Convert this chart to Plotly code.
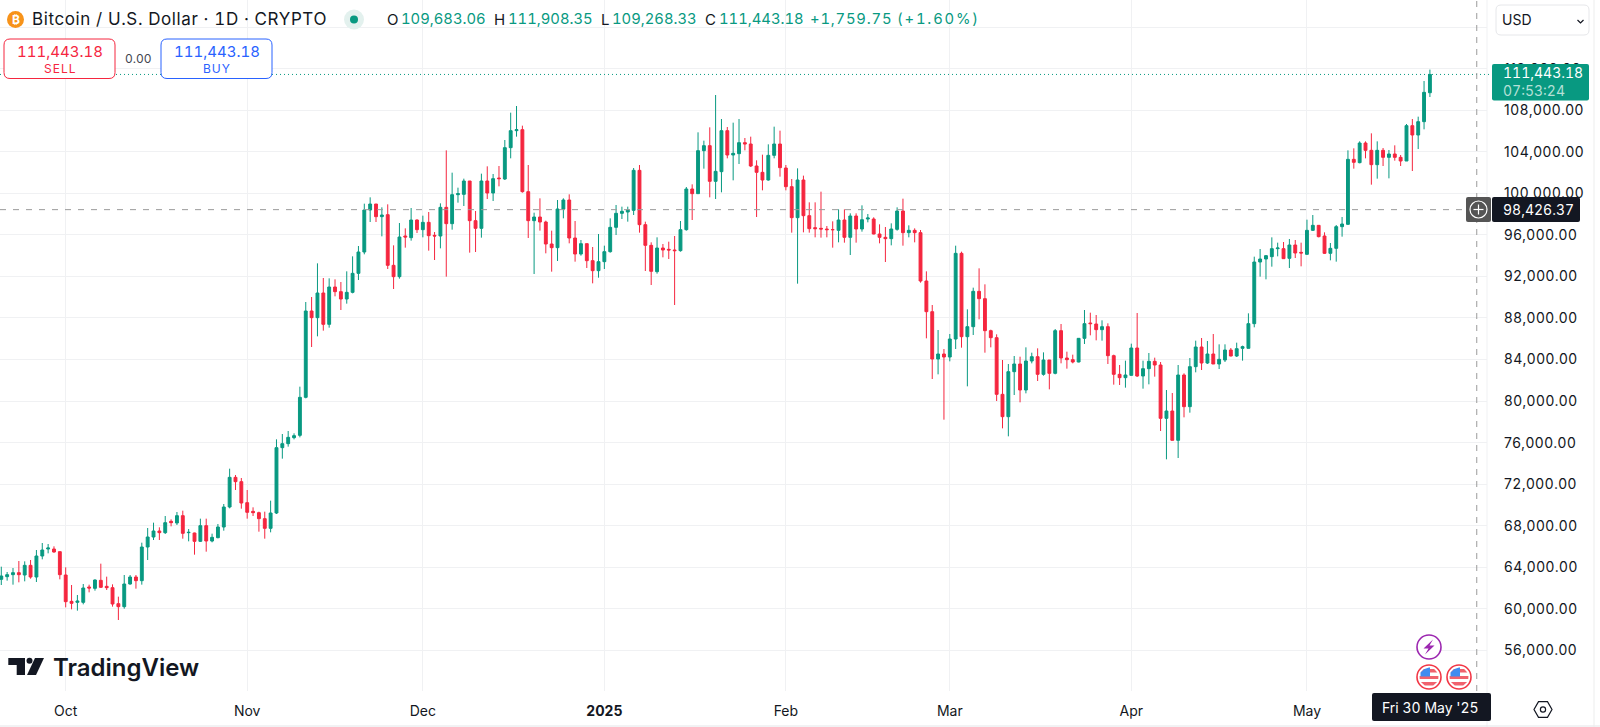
import math
import pandas as pd
import plotly.graph_objects as go

START_DATE = "2024-09-20"
X_TICK_DATES = ["2024-10-01", "2024-11-01", "2024-12-01", "2025-01-01", "2025-02-01", "2025-03-01", "2025-04-01", "2025-05-01"]
X_TICK_TEXT = ["Oct", "Nov", "Dec", "<b>2025</b>", "Feb", "Mar", "Apr", "May"]
Y_TICKS = [56000, 60000, 64000, 68000, 72000, 76000, 80000, 84000, 88000, 92000, 96000, 100000, 104000, 108000, 112000, 116000]
Y_TICK_TEXT = ["56,000.00", "60,000.00", "64,000.00", "68,000.00", "72,000.00", "76,000.00", "80,000.00", "84,000.00",
               "88,000.00", "92,000.00", "96,000.00", "100,000.00", "104,000.00", "108,000.00", "112,000.00", ""]

opens = [
    62836,63093,63286,63478,63254,64184,63061,65083,65757,65757,65500,
    63254,60718,60622,60622,62098,61970,62740,62163,62034,60494,60205,62387,63061,62708,65949,66912,67489,67329,68420,68260,68966,67329,67297,66495,68003,66527,66848,67875,69800,72656,72239,
    70217,69383,69254,68677,67746,69222,75512,75897,76475,76700,80358,88669,88027,90402,87386,90980,90530,89824,90466,92295,94349,98392,98970,97750,97943,93065,91974,95890,95729,97430,
    96499,97205,95953,95889,98649,97077,99868,99900,101184,97365,96628,101184,100029,101473,101377,104393,106030,106126,100157,97365,97718,97237,95119,94766,98489,99355,95697,94156,95151,93514,92552,
    93418,94381,96723,98071,98200,98360,102211,96980,94991,92456,94734,94605,94541,94477,96499,100414,99965,104104,104586,101152,102083,106030,103687,103816,104874,104746,102628,102019,101280,103655,104746,
    102436,100639,97654,101280,97846,96691,96627,96563,96499,96434,97429,95760,97814,96563,97525,97525,96081,95760,95632,96531,98296,96210,96434,96210,91557,88604,84047,84529,
    84240,85973,94220,86197,87160,90562,89856,86775,86101,80646,78496,82828,83566,81063,83855,84272,82572,83951,82668,86776,84144,83984,83759,86038,87514,87418,86872,87161,84369,82572,82251,
    82476,85107,82412,83118,83823,83471,78336,79042,76218,82508,79459,83310,85203,83663,84529,83567,83952,84915,84337,85075,85075,87450,93386,93675,93900,94670,94670,93739,95023,94317,
    94124,96435,96916,95889,94221,94702,96788,97013,103270,102949,104842,104137,102757,104137,103463,103784,103463,103110,106511,105613,106896,109683.06,
]
closes = [
    63157,63286,63478,63286,64184,63061,65083,65660,65853,65468,63286,
    60686,60526,60750,62002,62002,62772,62066,62034,60462,60205,62387,63061,62708,65949,66912,67489,67329,68292,68292,68966,67265,67361,66495,68003,66527,66880,67875,69800,72656,72239,70185,
    69287,69254,68677,67746,69222,75512,75897,76507,76667,80358,88669,88027,90402,87386,90980,90530,89824,90466,92295,94349,98392,98970,97750,97911,93065,91974,95793,95793,97430,96499,
    97205,95921,95889,98649,97077,99868,99965,101184,97365,96628,101184,100029,101409,101409,104393,106030,106126,100157,97365,97718,97237,95119,94766,98489,99355,95697,94156,95151,93514,92552,93418,
    94381,96723,98071,98264,98392,102211,96980,94991,92488,94734,94541,94541,94477,96499,100414,99965,104104,104586,101152,102115,106030,103687,103848,104874,104746,102628,102019,101280,103655,104746,102468,
    100639,97654,101280,97846,96595,96595,96563,96499,96499,97429,95760,97814,96563,97461,97622,96081,95760,95632,96563,98296,96210,96434,96210,91557,88604,84047,84529,84240,
    85973,94220,86197,87160,90562,89856,86775,86101,80646,78496,82828,83566,81063,83855,84272,82572,83951,82668,86776,84144,83984,83759,86038,87450,87450,86872,87161,84369,82572,82251,82508,
    85107,82412,83118,83823,83471,78336,79042,76218,82508,79459,83310,85203,83663,84529,83567,84016,84915,84337,85043,85235,87450,93386,93675,93996,94670,94734,93707,95023,94253,94253,
    96435,96916,95825,94221,94702,96788,97045,103270,102981,104842,104137,102757,104137,103463,103784,103463,103110,106511,105613,106896,109720,111443.18,
]
highs = [
    64056,63542,63927,64601,64569,64698,65660,66334,66238,66013,65500,
    63992,62291,61328,62387,62323,62836,64345,63093,62355,61168,63254,63254,63254,66366,67778,68292,67842,68933,68612,69319,69447,67682,67329,68677,68677,67233,68163,70089,73490,72880,72592,
    71437,69768,69351,69351,70410,76315,76828,77117,76892,81385,89535,90017,93258,91846,91814,91717,91461,92488,93932,94927,99002,99612,98970,98649,98938,94991,97141,96628,98585,97494,
    97847,98199,96274,99034,104136,101986,100542,101409,101184,98296,101890,102596,101858,102628,105131,107763,108404,106511,102724,98135,99515,97365,96403,99355,99515,99900,97333,95504,95151,94830,96082,
    94959,97590,98874,98713,98713,102436,102724,97269,95280,95761,95119,95344,95889,97333,100606,100863,105869,105067,106350,109463,107153,106383,106800,107153,105324,105452,103174,103719,104714,106415,106030,
    102724,101377,102403,101700,99130,99130,100157,96852,97301,98456,98456,98071,98071,98841,98007,97686,97012,96755,97108,98649,99483,96916,96627,96466,92487,89246,86839,85010,
    86454,94958,94381,88829,90915,92776,91236,86872,86422,83951,83566,84336,84272,85171,84657,85075,84689,83951,86936,87418,84754,84465,86038,88765,88509,88284,87771,87482,84465,83471,83888,
    85524,88476,83888,84626,84177,83759,81064,80775,83471,82668,84144,85813,86070,85781,86455,85460,85460,85107,85620,85332,88444,93900,94638,94060,95761,95247,95312,95600,95504,95247,
    97462,97911,96948,96243,95215,96948,97718,104137,104329,105003,105003,105773,105003,104361,104169,104618,103687,106672,107153,107377,110811,111908.35,
]
lows = [
    62291,62708,62323,62548,62644,62900,62580,64762,65339,65404,62836,
    60141,59948,59820,60430,61585,61745,62002,61810,60205,58921,60012,62323,61938,62323,64698,66623,66623,67201,67939,68067,66751,66495,65211,66430,65500,66398,66783,67521,69671,71437,69639,
    68677,68933,67425,66751,67361,69126,74453,75608,76315,76507,80261,85203,86230,86776,87065,90081,88765,89375,90370,91653,94124,97237,97237,95857,92712,90787,91782,94766,95440,96178,
    95761,94477,93579,94702,91974,96499,99098,98777,94285,94349,95729,99451,99259,100671,101280,103366,105452,100061,95697,92231,96403,94221,92456,93483,97590,95183,93418,93996,92809,91332,91878,
    92713,94285,95985,97526,97269,97911,96210,92520,91172,92263,93835,93675,89247,94381,96403,97429,99965,102371,99612,99451,100093,103366,101248,102821,104136,102532,97718,100285,101216,103366,101601,
    100285,96210,91300,96242,96210,95760,95729,95760,94766,95279,95247,94060,95247,96306,97205,96049,95183,93386,94990,96402,94958,95760,95279,91396,86037,82122,82572,78207,
    83823,85010,85139,81416,86358,87866,84657,85171,80005,77373,76603,80582,79876,80742,83630,81930,82443,81127,82572,83631,83118,83631,83727,85492,86327,85845,85813,83567,81577,81545,81289,
    82444,82315,81192,81609,82347,77116,74389,76218,74517,78433,78882,82765,82989,83567,83567,83086,83759,84305,84241,83888,85075,87100,91975,91718,92937,93932,93675,92809,93771,92969,
    94092,96371,95761,94157,93547,93418,95825,96948,102372,102885,103366,100831,101409,102628,101441,103142,102628,103110,102147,104265,106158,109268.33,
]
dates = pd.date_range(START_DATE, periods=len(opens), freq="D")
assert len(opens) == len(closes) == len(highs) == len(lows)

LAST_PRICE = 111443.18
CROSS_PRICE = 98426.37
CROSS_DATE = "2025-05-30"

W, H = 1600, 727
GREEN, RED, BLUE = "#089981", "#F5263F", "#2962FF"
INK = "#131722"
GRID = "#f0f1f3"
FONT = "Inter"
PLOT_R, PLOT_B = 1487, 691

def fx(x): return x / W
def fy(y): return 1 - y / H

fig = go.Figure(go.Candlestick(
    x=dates, open=opens, high=highs, low=lows, close=closes, whiskerwidth=0,
    increasing=dict(line=dict(color=GREEN, width=1), fillcolor=GREEN),
    decreasing=dict(line=dict(color=RED, width=1), fillcolor=RED),
    hoverinfo="skip", showlegend=False,
))

shapes, notes = [], []

def text(x, y, s, size=14, color=INK, anchor="left", sp=0.0, **font):
    body = f'<span style="letter-spacing:{sp}px;font-variant-numeric:tabular-nums">{s}</span>'
    notes.append(dict(xref="paper", yref="paper", x=fx(x), y=fy(y), text=body, showarrow=False,
                      xanchor=anchor, yanchor="middle", borderpad=0,
                      font=dict(family=FONT, size=size, color=color, **font)))

def rrect(x0, y0, x1, y1, r, line=None, fill=None, lw=1):
    d = (f"M{fx(x0+r)},{fy(y0)} L{fx(x1-r)},{fy(y0)} Q{fx(x1)},{fy(y0)} {fx(x1)},{fy(y0+r)} "
         f"L{fx(x1)},{fy(y1-r)} Q{fx(x1)},{fy(y1)} {fx(x1-r)},{fy(y1)} L{fx(x0+r)},{fy(y1)} "
         f"Q{fx(x0)},{fy(y1)} {fx(x0)},{fy(y1-r)} L{fx(x0)},{fy(y0+r)} Q{fx(x0)},{fy(y0)} {fx(x0+r)},{fy(y0)} Z")
    shapes.append(dict(type="path", xref="paper", yref="paper", path=d, fillcolor=fill or "rgba(0,0,0,0)",
                       line=dict(color=line or "rgba(0,0,0,0)", width=lw if line else 0), layer="above"))

def circle(cx, cy, r, fill=None, line=None, lw=1):
    shapes.append(dict(type="circle", xref="paper", yref="paper", x0=fx(cx-r), x1=fx(cx+r), y0=fy(cy+r), y1=fy(cy-r),
                       fillcolor=fill or "rgba(0,0,0,0)", line=dict(color=line or "rgba(0,0,0,0)", width=lw if line else 0), layer="above"))

def poly(points, fill=None, line=None, lw=1, close=True):
    d = "M" + " L".join(f"{fx(a)},{fy(b)}" for a, b in points) + (" Z" if close else "")
    shapes.append(dict(type="path", xref="paper", yref="paper", path=d, fillcolor=fill or "rgba(0,0,0,0)",
                       line=dict(color=line or "rgba(0,0,0,0)", width=lw if line else 0), layer="above"))

# guide lines
shapes.append(dict(type="line", xref="paper", yref="y", x0=0, x1=fx(1492), y0=LAST_PRICE, y1=LAST_PRICE,
                   line=dict(color=GREEN, width=1, dash="1px,3px"), layer="above"))
shapes.append(dict(type="line", xref="paper", yref="y", x0=0, x1=fx(1466), y0=CROSS_PRICE, y1=CROSS_PRICE,
                   line=dict(color="#9a9a9a", width=1, dash="6px,7px"), layer="above"))
shapes.append(dict(type="line", xref="x", yref="paper", x0=CROSS_DATE, x1=CROSS_DATE, y0=fy(PLOT_B), y1=1,
                   line=dict(color="#9a9a9a", width=1, dash="6px,6px"), layer="above"))
# panel edges
shapes.append(dict(type="line", xref="paper", yref="paper", x0=fx(PLOT_R), x1=fx(PLOT_R), y0=0, y1=1, line=dict(color="#f0f1f3", width=1), layer="above"))
shapes.append(dict(type="line", xref="paper", yref="paper", x0=0, x1=1, y0=fy(726), y1=fy(726), line=dict(color="#e4e5e8", width=1), layer="above"))
shapes.append(dict(type="line", xref="paper", yref="paper", x0=fx(1594), x1=fx(1594), y0=0, y1=1, line=dict(color="#eceded", width=1), layer="above"))

# header
circle(15.5, 19.5, 8.5, fill="#F7931A")
text(15.5, 19.5, "<b>₿</b>", size=12, color="#ffffff", anchor="center")
text(30.5, 19.5, "Bitcoin / U.S. Dollar · 1D · CRYPTO", size=17, sp=0.6)
circle(354, 19.5, 10, fill="#e3f1ee")
circle(354, 19.5, 4, fill=GREEN)
for lab, lx, val, vx in [("O", 386, "109,683.06", 400), ("H", 492.5, "111,908.35", 506.5),
                         ("L", 600, "109,268.33", 610.5), ("C", 704, "111,443.18", 718)]:
    text(lx, 19.5, lab, size=15)
    text(vx, 19.5, val, size=14.8, color=GREEN)
text(809, 19.5, "+1,759.75", size=14.8, color=GREEN, sp=0.8)
text(896, 19.5, "(+1.60%)", size=14.8, color=GREEN, sp=1.8)

# trade buttons
rrect(4, 39, 115, 78.5, 6, line=RED, fill="#ffffff")
rrect(161, 39, 272, 78.5, 6, line=BLUE, fill="#ffffff")
text(59.5, 51.5, "111,443.18", size=15, color=RED, anchor="center")
text(59.5, 68.5, "SELL", size=12, color=RED, anchor="center", sp=1)
text(138, 58.5, "0.00", size=12, color="#434651", anchor="center")
text(216.5, 51.5, "111,443.18", size=15, color=BLUE, anchor="center")
text(216.5, 68.5, "BUY", size=12, color=BLUE, anchor="center", sp=1)

# currency box
rrect(1496, 5, 1589, 35, 5, line="#e6e7ea", fill="#ffffff")
text(1501, 20, "USD", size=14)
poly([(1577.5, 20), (1580.5, 23), (1583.5, 20)], line=INK, lw=1.2, close=False)

# price badges
rrect(1492, 64, 1589, 100.5, 2, fill=GREEN)
text(1502, 73, "111,443.18", size=14, color="#ffffff")
text(1502, 90.5, "07:53:24", size=14, color="#b5e0d7")
rrect(1466, 197, 1491, 222, 2, fill="#555555")
circle(1478.5, 209.5, 8.5, line="#ffffff", lw=1.2)
poly([(1473.5, 209.5), (1483.5, 209.5)], line="#ffffff", lw=1.2, close=False)
poly([(1478.5, 204.5), (1478.5, 214.5)], line="#ffffff", lw=1.2, close=False)
rrect(1492, 197, 1580, 222, 2, fill="#131722")
text(1502, 209.5, "98,426.37", size=14, color="#ffffff")

# date label
rrect(1372, 693, 1491, 721, 2, fill="#131722")
text(1430, 707.5, "Fri 30 May '25", size=14, color="#ffffff", anchor="center")

# settings glyph
cx, cy = 1543, 709.5
poly([(cx + 9 * math.cos(math.radians(a)), cy + 9 * math.sin(math.radians(a))) for a in range(0, 360, 60)], line=INK, lw=1.2)
circle(cx, cy, 2.6, line=INK, lw=1.2)

# event markers
PURPLE = "#9C27B0"
circle(1429, 647, 12, fill="#ffffff", line=PURPLE, lw=1.6)
poly([(1433, 639.5), (1423.5, 648.5), (1428.5, 648.5), (1425, 654.5), (1434.5, 645.5), (1429.5, 645.5)], fill=PURPLE)

def flag(cx, cy):
    circle(cx, cy, 12, fill="#ffffff", line="#F23645", lw=1.6)
    r = 9.5
    for a, b in [(-8, -4.5), (-1, 2), (5, 8.5)]:
        pts = []
        for y in (a, b):
            hw = math.sqrt(max(r * r - y * y, 0))
            pts.append((y, hw))
        poly([(cx - pts[0][1], cy + a), (cx + pts[0][1], cy + a), (cx + pts[1][1], cy + b), (cx - pts[1][1], cy + b)], fill="#F0616D")
    poly([(cx - 8.5, cy - 0.5), (cx - 8.5, cy - 4.5), (cx - 4.5, cy - 8), (cx, cy - 9.5), (cx + 1, cy - 9.5), (cx + 1, cy - 0.5)], fill="#3f8cf0")

flag(1429, 677)
flag(1459, 677)

# logo
LOGO = "#131722"
poly([(8.3, 658), (25, 658), (25, 675), (16.7, 675), (16.7, 665), (8.3, 665)], fill=LOGO)
circle(29.5, 660.8, 3, fill=LOGO)
poly([(35, 658), (44, 658), (36, 675), (27, 675)], fill=LOGO)
text(52, 667, "TradingView", size=24, color=LOGO, weight=600)

fig.update_layout(
    width=W, height=H, autosize=False,
    margin=dict(l=0, r=0, t=0, b=0, pad=0),
    paper_bgcolor="#ffffff", plot_bgcolor="#ffffff",
    font=dict(family=FONT, size=14, color=INK),
    showlegend=False, shapes=shapes, annotations=notes,
    xaxis=dict(
        domain=[0, PLOT_R / W], range=["2024-09-19 18:43", "2025-05-31 18:00"], rangeslider=dict(visible=False),
        tickmode="array", tickvals=X_TICK_DATES, ticktext=X_TICK_TEXT, showgrid=True, gridcolor=GRID, gridwidth=1,
        zeroline=False, showline=False, ticks="", ticklabelstandoff=10, tickfont=dict(family=FONT, size=14, color=INK),
    ),
    yaxis=dict(
        domain=[1 - PLOT_B / H, 1], range=[52087, 118609], side="right", tickmode="array", tickvals=Y_TICKS, ticktext=Y_TICK_TEXT,
        showgrid=True, gridcolor=GRID, gridwidth=1, zeroline=False, showline=False, ticks="",
        ticklabelstandoff=16, tickfont=dict(family=FONT, size=14, color=INK),
    ),
)
CSS = ".ytick text{letter-spacing:0.6px;font-variant-numeric:tabular-nums}"
fig.write_html("out.html", config={"displayModeBar": False},
               post_script="document.body.style.margin='0';document.body.style.overflow='hidden';"
                           f"var s=document.createElement('style');s.textContent='{CSS}';document.head.appendChild(s);")
